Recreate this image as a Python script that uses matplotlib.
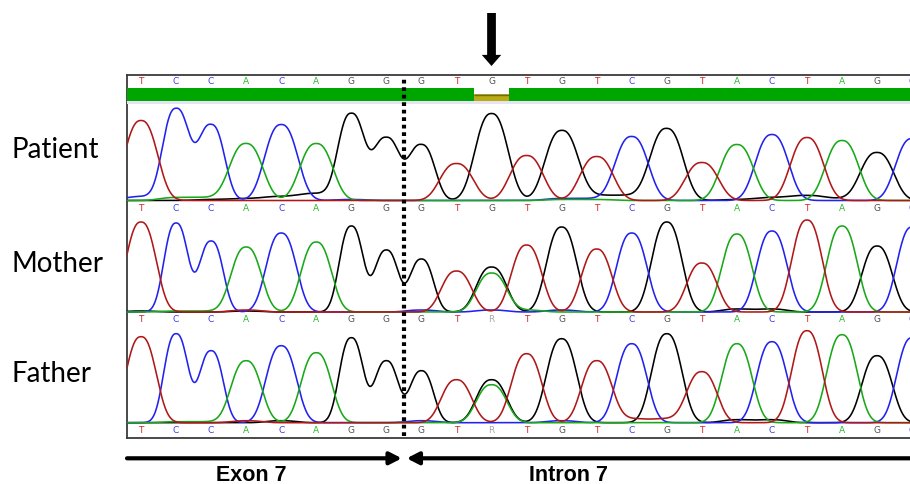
import numpy as np
import matplotlib
matplotlib.use("Agg")
import matplotlib.pyplot as plt

# ---------------- data ----------------
positions = np.arange(23)
patient_calls = list("TCCACAGGGTGTGTCGTACTAGC")
mother_calls = list("TCCACAGGGTRTGTCGTACTAGC")
father_calls = list("TCCACAGGGTRTGTCGTACTAGC")
quality = [40] * 10 + [20] + [40] * 12

#               0    1    2    3    4    5    6    7    8    9   10   11   12   13   14   15   16   17   18   19   20   21   22
patient_A = [0.00,0.03,0.03,0.57,0.00,0.57,0.00,0.00,0.00,0.00,0.00,0.00,0.01,0.01,0.00,0.00,0.00,0.56,0.00,0.00,0.60,0.00,0.00]
patient_C = [0.04,0.92,0.76,0.00,0.76,0.00,0.01,0.00,0.00,0.00,0.00,0.00,0.02,0.02,0.64,0.00,0.00,0.00,0.66,0.00,0.00,0.00,0.62]
patient_G = [0.00,0.00,0.01,0.02,0.04,0.07,0.87,0.63,0.56,0.00,0.87,0.00,0.70,0.05,0.05,0.72,0.00,0.01,0.03,0.05,0.02,0.48,0.00]
patient_T = [0.80,0.00,0.00,0.00,0.00,0.00,0.00,0.00,0.00,0.37,0.00,0.45,0.00,0.44,0.00,0.00,0.38,0.00,0.00,0.63,0.00,0.00,0.00]

mother_A = [0.00,0.01,0.01,0.65,0.00,0.70,0.00,0.00,0.00,0.00,0.39,0.02,0.00,0.00,0.00,0.00,0.00,0.78,0.00,0.00,0.86,0.00,0.00]
mother_C = [0.00,0.89,0.71,0.00,0.79,0.00,0.00,0.00,0.02,0.00,0.02,0.00,0.02,0.00,0.79,0.00,0.00,0.00,0.81,0.00,0.00,0.00,0.85]
mother_G = [0.01,0.00,0.00,0.01,0.00,0.00,0.86,0.62,0.53,0.00,0.45,0.00,0.85,0.00,0.00,0.90,0.00,0.03,0.03,0.00,0.00,0.66,0.00]
mother_T = [0.90,0.00,0.00,0.02,0.00,0.00,0.00,0.00,0.00,0.41,0.00,0.67,0.00,0.63,0.00,0.00,0.49,0.00,0.00,0.92,0.00,0.00,0.00]

father_A = [0.00,0.01,0.01,0.62,0.00,0.70,0.00,0.00,0.00,0.00,0.38,0.00,0.00,0.00,0.00,0.00,0.00,0.79,0.00,0.00,0.88,0.00,0.00]
father_C = [0.00,0.89,0.72,0.00,0.77,0.00,0.00,0.00,0.02,0.00,0.00,0.00,0.02,0.00,0.79,0.00,0.00,0.00,0.81,0.00,0.00,0.00,0.85]
father_G = [0.00,0.00,0.00,0.00,0.02,0.00,0.85,0.62,0.52,0.00,0.43,0.00,0.84,0.00,0.00,0.89,0.00,0.03,0.03,0.00,0.00,0.67,0.00]
father_T = [0.86,0.00,0.00,0.02,0.00,0.00,0.00,0.00,0.00,0.43,0.00,0.69,0.00,0.62,0.04,0.04,0.51,0.00,0.00,0.92,0.00,0.00,0.00]

panel_names = ["Patient", "Mother", "Father"]

# ---------------- style ----------------
W, H = 910, 484
trace_colors = {"A": "#18a818", "C": "#2222ee", "G": "#000000", "T": "#b01818"}
letter_colors = {"A": "#2cb82c", "C": "#3a3ae0", "G": "#505050", "T": "#d02828", "R": "#a8a8a8"}

fig = plt.figure(figsize=(W / 100, H / 100), dpi=100)


def fx(px):
    return px / W


def fy(py):
    return 1 - py / H


X0, X1 = -0.4, 21.94
left = fx(127)
width = 1 - left

# frame axes
fr = fig.add_axes([left, fy(438), width, fy(75) - fy(438)])
fr.set_xlim(X0, X1)
fr.set_ylim(0, 1)
fr.set_xticks([])
fr.set_yticks([])
fr.spines["right"].set_visible(False)
for s in ["left", "top", "bottom"]:
    fr.spines[s].set_color("#3a3a3a")
    fr.spines[s].set_linewidth(1.3)
fr.set_zorder(0)

xs = np.linspace(X0, X1, 2400)


def trace(heights, w_single, w_run, p=2.5):
    """Sum of peak shapes; peaks next to a peak of the same dye are narrower."""
    h = np.asarray(heights)
    strong = h > 0.2
    y = np.zeros_like(xs)
    for i in positions:
        if h[i] <= 0:
            continue
        run = strong[i] and ((i > 0 and strong[i - 1]) or (i < len(h) - 1 and strong[i + 1]))
        w = w_run if run else w_single
        y += h[i] * np.exp(-(np.abs(xs - i) / w) ** p)
    return y


panels = [
    (200.5, 1.25, (0.60, 0.49), patient_calls, dict(A=patient_A, C=patient_C, G=patient_G, T=patient_T)),
    (312.0, 1.00, (0.55, 0.44), mother_calls, dict(A=mother_A, C=mother_C, G=mother_G, T=mother_T)),
    (422.7, 1.00, (0.55, 0.44), father_calls, dict(A=father_A, C=father_C, G=father_G, T=father_T)),
]

label_baselines = [158, 271.7, 381.7]

for k, (base, ytop, (w1, w2), calls, chans) in enumerate(panels):
    bottom_px = base + 3
    top_px = base - 100 * ytop
    ax = fig.add_axes([left, fy(bottom_px), width, fy(top_px) - fy(bottom_px)])
    ax.set_xlim(X0, X1)
    ax.set_ylim(-0.03, ytop)
    ax.axis("off")
    ax.patch.set_alpha(0)
    ax.set_zorder(1 + k)
    for ch in ["G", "C", "A", "T"]:
        ax.plot(xs, trace(chans[ch], w1, w2), color=trace_colors[ch], lw=1.15,
                solid_joinstyle="round")
    for i, c in zip(positions, calls):
        ax.text(i, -0.08, c, ha="center", va="center", fontsize=6.5,
                color=letter_colors[c], family="DejaVu Sans", clip_on=False)
    if k == 0:
        for i, c in zip(positions, calls):
            ax.text(i, 1.185, c, ha="center", va="center", fontsize=6.5,
                    color=letter_colors[c], family="DejaVu Sans", clip_on=False)
        ax.axhspan(0.965, 0.998, color="#e4e4f4", lw=0)
        qh = np.array(quality) / 40 * 0.124
        qcol = ["#00a600" if q >= 30 else "#b9ab12" for q in quality]
        ax.bar(positions, qh, bottom=0.998, width=1.0, color=qcol, linewidth=0)
        for i, q, h in zip(positions, quality, qh):
            if q < 30:
                ax.hlines(0.998 + h, i - 0.5, i + 0.5, color="#6d6a2a", lw=1.0)
    fig.text(fx(11), fy(label_baselines[k]), panel_names[k], fontsize=20,
             family="Lato", va="baseline", ha="left", color="black")

# overlay axes for annotations
ov = fig.add_axes([left, fy(438), width, fy(75) - fy(438)])
ov.set_xlim(X0, X1)
ov.set_ylim(0, 1)
ov.axis("off")
ov.patch.set_alpha(0)
ov.set_zorder(10)

ov.axvline(7.5, ymin=0.005, ymax=0.995, color="black", lw=3.0,
           linestyle=(0, (0.9, 0.9)))

# top arrow marking variant
ov.annotate("", xy=(10, H - 66), xytext=(10, H - 13),
            xycoords=("data", "figure pixels"), textcoords=("data", "figure pixels"),
            arrowprops=dict(arrowstyle="simple,head_length=0.8,head_width=1.4,tail_width=0.63",
                            mutation_scale=10, color="black", lw=0, shrinkA=0, shrinkB=0),
            annotation_clip=False)

# exon / intron arrows
arrow_y = H - 458.3
arrow_kw = dict(arrowstyle="-|>,head_length=0.35,head_width=0.18", mutation_scale=20,
                color="black", lw=3.0, shrinkA=0, shrinkB=0)
ov.annotate("", xy=(7.44, arrow_y), xytext=(X0, arrow_y),
            xycoords=("data", "figure pixels"), textcoords=("data", "figure pixels"),
            arrowprops=arrow_kw, annotation_clip=False)
ov.annotate("", xy=(7.58, arrow_y), xytext=(23.0, arrow_y),
            xycoords=("data", "figure pixels"), textcoords=("data", "figure pixels"),
            arrowprops=arrow_kw, annotation_clip=False)

ov.annotate("Exon 7", xy=(3.15, 3), xycoords=("data", "figure pixels"),
            ha="center", va="baseline", fontsize=15.5, fontweight="bold",
            family="Liberation Sans", annotation_clip=False)
ov.annotate("Intron 7", xy=(12.2, 3), xycoords=("data", "figure pixels"),
            ha="center", va="baseline", fontsize=15.5, fontweight="bold",
            family="Liberation Sans", annotation_clip=False)

fig.savefig("out.png", dpi=100)
